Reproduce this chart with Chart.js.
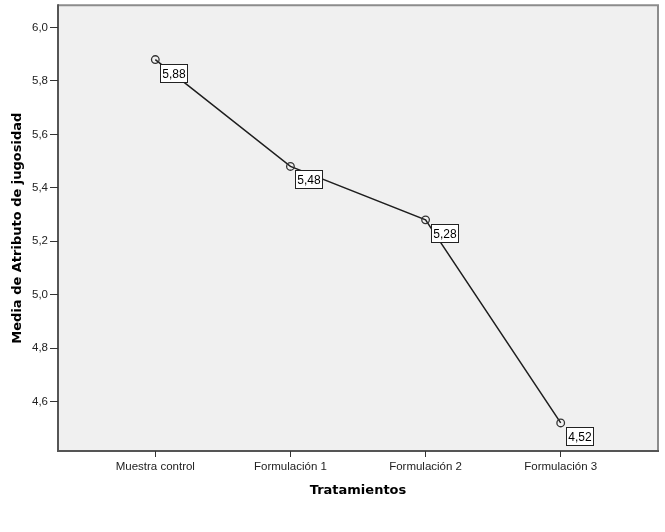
<!DOCTYPE html>
<html>
<head>
<meta charset="utf-8">
<script src="https://cdn.jsdelivr.net/npm/chart.js@4.4.0/dist/chart.umd.min.js"></script>
<style>
html, body { margin: 0; padding: 0; background: #fff; }
#wrap { width: 665px; height: 532px; }
</style>
</head>
<body>
<div id="wrap"><canvas id="chart" width="665" height="532"></canvas></div>
<script>
const categories = ['Muestra control', 'Formulación 1', 'Formulación 2', 'Formulación 3'];
const means = [5.88, 5.48, 5.28, 4.52];
const yTicks = [4.6, 4.8, 5.0, 5.2, 5.4, 5.6, 5.8, 6.0];
const yMin = 4.415;
const yMax = 6.083;

const fmt = v => v.toFixed(2).replace('.', ',');
const tickFont = '"Liberation Sans", Arial, sans-serif';
const titleFont = '"DejaVu Sans", Verdana, sans-serif';

// fondo gris y borde del area de trazado (estilo SPSS)
const plotFrame = {
    id: 'plotFrame',
    beforeDraw(chart) {
        const { ctx, chartArea: a } = chart;
        ctx.save();
        ctx.fillStyle = '#f0f0f0';
        ctx.fillRect(a.left, a.top, a.right - a.left, a.bottom - a.top);
        ctx.strokeStyle = '#8c8c8c';
        ctx.lineWidth = 2;
        ctx.beginPath();
        ctx.moveTo(a.left, a.top);
        ctx.lineTo(a.right, a.top);
        ctx.lineTo(a.right, a.bottom);
        ctx.stroke();
        ctx.strokeStyle = '#555';
        ctx.beginPath();
        ctx.moveTo(a.left, a.top - 1);
        ctx.lineTo(a.left, a.bottom);
        ctx.lineTo(a.right + 1, a.bottom);
        ctx.stroke();
        ctx.restore();
    }
};

// cajas con el valor de cada media
const valueBoxes = {
    id: 'valueBoxes',
    afterDatasetsDraw(chart) {
        const { ctx } = chart;
        const meta = chart.getDatasetMeta(0);
        ctx.save();
        ctx.font = '12px ' + tickFont;
        ctx.textBaseline = 'middle';
        ctx.textAlign = 'center';
        meta.data.forEach((pt, i) => {
            const x = Math.round(pt.x) + 5;
            const y = Math.round(pt.y) + 4;
            const w = 28, h = 19;
            ctx.fillStyle = '#fff';
            ctx.fillRect(x, y, w, h);
            ctx.strokeStyle = '#222';
            ctx.lineWidth = 1;
            ctx.strokeRect(x + 0.5, y + 0.5, w - 1, h - 1);
            ctx.fillStyle = '#000';
            ctx.fillText(fmt(means[i]), x + w / 2, y + h / 2 + 1);
        });
        ctx.restore();
    }
};

new Chart(document.getElementById('chart'), {
    type: 'line',
    data: {
        datasets: [{
            data: means.map((v, i) => ({ x: i, y: v })),
            borderColor: '#1e1e1e',
            borderWidth: 1.5,
            pointRadius: 3.8,
            pointBorderWidth: 1.3,
            pointBorderColor: '#333',
            pointBackgroundColor: 'rgba(0,0,0,0)',
            tension: 0
        }]
    },
    options: {
        responsive: false,
        devicePixelRatio: 1,
        animation: false,
        layout: { padding: { left: 0, right: 7, top: 3, bottom: 0 } },
        plugins: {
            legend: { display: false },
            tooltip: { enabled: false }
        },
        scales: {
            x: {
                type: 'linear',
                min: -0.72,
                max: 3.72,
                afterBuildTicks: scale => { scale.ticks = categories.map((c, i) => ({ value: i })); },
                afterFit: scale => {
                    scale.height = 81;
                    scale.paddingLeft = 0;
                    scale.paddingRight = 0;
                },
                border: { display: false },
                grid: { drawOnChartArea: false, tickLength: 6, color: '#333' },
                ticks: {
                    autoSkip: false,
                    maxRotation: 0,
                    padding: 3,
                    color: '#222',
                    font: { family: tickFont, size: 11.5 },
                    callback: v => categories[v]
                },
                title: {
                    display: true,
                    text: 'Tratamientos',
                    color: '#000',
                    font: { family: titleFont, size: 13, weight: 'bold' },
                    padding: { top: 0, bottom: 34 }
                }
            },
            y: {
                min: yMin,
                max: yMax,
                afterBuildTicks: scale => { scale.ticks = yTicks.map(v => ({ value: v })); },
                afterFit: scale => {
                    scale.width = 58;
                    scale.paddingTop = 0;
                    scale.paddingBottom = 0;
                },
                border: { display: false },
                grid: { drawOnChartArea: false, tickLength: 8, color: '#333' },
                ticks: {
                    padding: 2,
                    color: '#222',
                    font: { family: tickFont, size: 11.5 },
                    callback: v => v.toFixed(1).replace('.', ',')
                },
                title: {
                    display: true,
                    text: 'Media de Atributo de jugosidad',
                    color: '#000',
                    font: { family: titleFont, size: 13, weight: 'bold' },
                    padding: { top: 10, bottom: 0 }
                }
            }
        }
    },
    plugins: [plotFrame, valueBoxes]
});
</script>
</body>
</html>
